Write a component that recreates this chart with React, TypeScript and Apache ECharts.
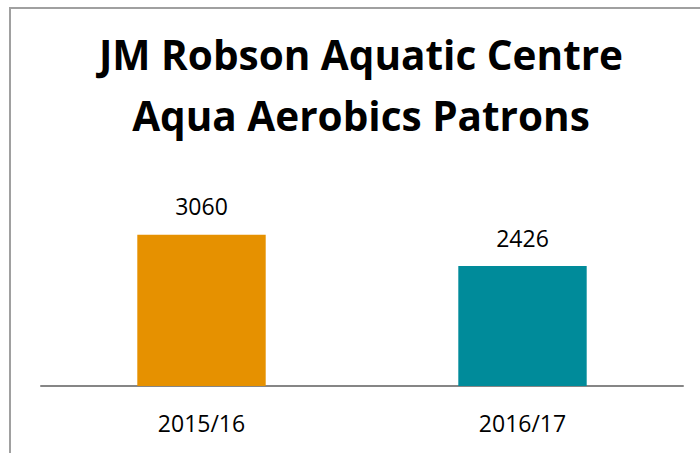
import React, { useEffect, useRef } from "react";
import * as echarts from "echarts";

const categories = ["2015/16", "2016/17"];
const patrons = [3060, 2426];
const barColors = ["#E69100", "#008B9A"];
const titleLines = ["JM Robson Aquatic Centre", "Aqua Aerobics Patrons"];

export default function App() {
  const ref = useRef<HTMLDivElement>(null);
  useEffect(() => {
    if (!ref.current) return;
    const chart = echarts.init(ref.current, null, { renderer: "svg" });
    chart.setOption({
      animation: false,
      backgroundColor: "#ffffff",
      graphic: [
        {
          type: "rect",
          silent: true,
          shape: { x: 10, y: 8, width: 900, height: 900 },
          style: { fill: "none", stroke: "#a0a0a0", lineWidth: 2 },
        },
        {
          type: "text",
          silent: true,
          x: 361,
          y: 24,
          style: {
            text: titleLines.join("\n"),
            fontFamily: "Open Sans",
            fontWeight: "bold",
            fontSize: 40.5,
            lineHeight: 61,
            fill: "#000000",
            align: "center",
            verticalAlign: "top",
          },
        },
      ],
      grid: { left: 41, right: 17, top: 213, bottom: 67 },
      xAxis: {
        type: "category",
        data: categories,
        axisLine: { show: true, lineStyle: { color: "#868686", width: 2 } },
        axisTick: { show: false },
        axisLabel: {
          color: "#000000",
          fontFamily: "Open Sans",
          fontSize: 23,
          margin: 25,
        },
      },
      yAxis: {
        type: "value",
        min: 0,
        max: 3500,
        show: false,
        splitLine: { show: false },
      },
      series: [
        {
          type: "bar",
          barWidth: "40%",
          data: patrons.map((v, i) => ({
            value: v,
            itemStyle: { color: barColors[i] },
          })),
          label: {
            show: true,
            position: "top",
            distance: 17,
            color: "#000000",
            fontFamily: "Open Sans",
            fontSize: 23,
          },
        },
      ],
    });
    return () => chart.dispose();
  }, []);
  return (
    <div
      ref={ref}
      style={{ position: "absolute", left: 0, top: 0, width: 700, height: 453 }}
    />
  );
}
